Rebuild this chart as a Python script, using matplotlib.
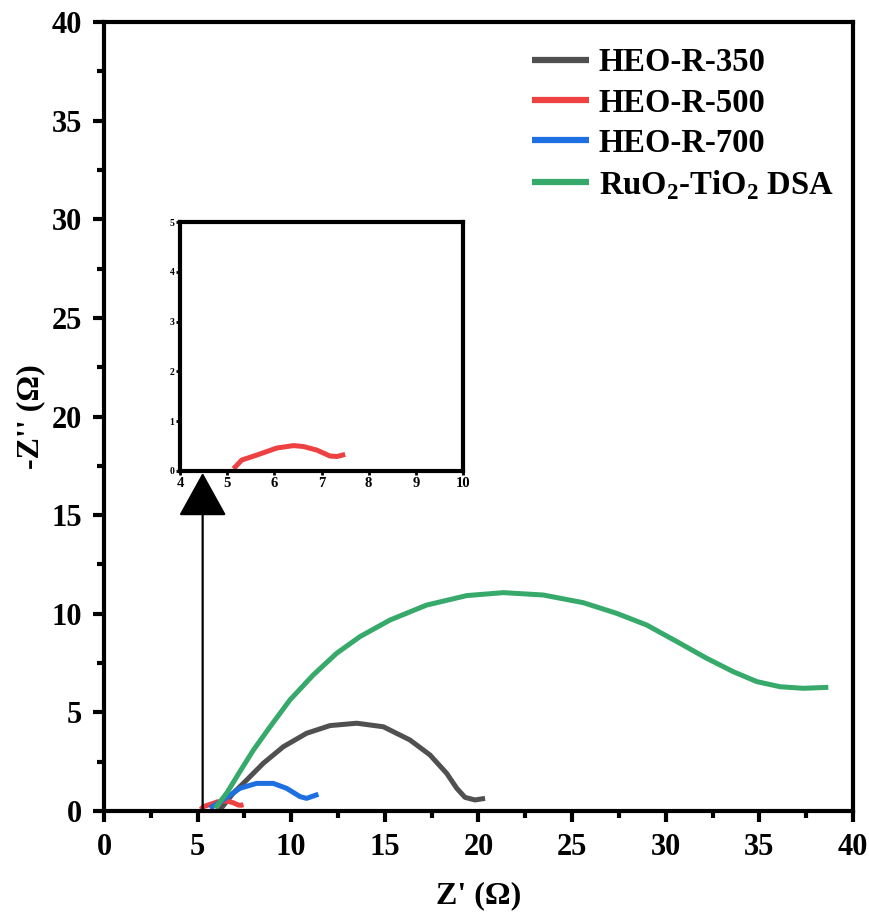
import matplotlib
matplotlib.use("Agg")
import matplotlib.pyplot as plt
from matplotlib.ticker import MultipleLocator

plt.rcParams['font.family'] = ['Liberation Serif', 'DejaVu Serif']
plt.rcParams['font.weight'] = 'bold'
plt.rcParams['mathtext.fontset'] = 'custom'
plt.rcParams['mathtext.rm'] = 'Liberation Serif:bold'
plt.rcParams['mathtext.bf'] = 'Liberation Serif:bold'

# Nyquist data: Z' (ohm) and -Z'' (ohm)
heo350_zr = [6.19, 6.9, 7.62, 8.51, 9.58, 10.82, 12.07, 13.5, 14.92, 16.34, 17.41, 18.3,
             18.84, 19.28, 19.81, 20.35]
heo350_zi = [0.05, 0.9, 1.57, 2.42, 3.26, 3.94, 4.33, 4.45, 4.27, 3.6, 2.84, 1.91,
             1.15, 0.69, 0.56, 0.64]

heo500_zr = [5.17, 5.31, 5.63, 6.05, 6.41, 6.62, 6.9, 7.18, 7.33, 7.45]
heo500_zi = [0.08, 0.22, 0.32, 0.46, 0.51, 0.49, 0.42, 0.30, 0.29, 0.32]

heo700_zr = [5.66, 6.37, 7.26, 8.15, 9.04, 9.75, 10.47, 10.82, 11.45]
heo700_zi = [0.14, 0.56, 1.15, 1.4, 1.4, 1.15, 0.73, 0.64, 0.85]

dsa_zr = [5.93, 6.55, 7.26, 7.98, 8.87, 9.93, 11.18, 12.43, 13.67, 15.27, 17.23, 19.37,
          21.33, 23.46, 25.6, 27.38, 28.98, 30.76, 32.19, 33.61, 34.86, 36.1, 37.35, 38.68]
dsa_zi = [0.14, 0.9, 2.0, 3.09, 4.27, 5.63, 6.9, 8.0, 8.84, 9.68, 10.44, 10.92,
          11.07, 10.95, 10.56, 10.02, 9.43, 8.5, 7.74, 7.06, 6.56, 6.3, 6.22, 6.27]

series = [
    ("HEO-R-350", heo350_zr, heo350_zi, "#505050"),
    ("HEO-R-500", heo500_zr, heo500_zi, "#EE4242"),
    ("HEO-R-700", heo700_zr, heo700_zi, "#1E6FE0"),
    (r"RuO$_2$-TiO$_2$ DSA", dsa_zr, dsa_zi, "#36A96B"),
]

fig = plt.figure(figsize=(8.7, 9.17), dpi=100)
ax = fig.add_axes([0.1195, 0.1156, 0.861, 0.8604])

for label, zr, zi, color in series:
    ax.plot(zr, zi, color=color, lw=3.6, label=label, solid_capstyle='butt',
            solid_joinstyle='round')

ax.set_xlim(0, 40)
ax.set_ylim(0, 40)
ax.xaxis.set_major_locator(MultipleLocator(5))
ax.xaxis.set_minor_locator(MultipleLocator(2.5))
ax.yaxis.set_major_locator(MultipleLocator(5))
ax.yaxis.set_minor_locator(MultipleLocator(2.5))
ax.tick_params(which='major', direction='out', length=8, width=3, labelsize=22, pad=8)
ax.tick_params(which='minor', direction='out', length=5, width=3)
for s in ax.spines.values():
    s.set_linewidth(3)
for lbl in ax.get_xticklabels() + ax.get_yticklabels():
    lbl.set_fontweight('bold')

ax.set_xlabel("Z' (Ω)", fontsize=23, fontweight='bold', labelpad=14)
ax.set_ylabel("-Z'' (Ω)", fontsize=23, fontweight='bold', labelpad=4)

leg = ax.legend(loc='upper right', bbox_to_anchor=(1.013, 1.005), frameon=False,
                prop={'family': 'Liberation Serif', 'weight': 'bold', 'size': 23.5},
                handlelength=1.75, handletextpad=0.28, labelspacing=0.28)
for h in leg.get_lines():
    h.set_linewidth(4.5)

# arrow pointing from the low-frequency region to the zoomed inset
ax.annotate("", xy=(5.27, 17.14), xytext=(5.27, 0.0),
            arrowprops=dict(arrowstyle="-|>,head_length=2.8,head_width=1.55",
                            mutation_scale=10, color='black', lw=1.6,
                            shrinkA=0, shrinkB=0))

# inset: enlarged view of HEO-R-500
axin = fig.add_axes([0.2069, 0.4864, 0.3253, 0.2715])
axin.plot(heo500_zr, heo500_zi, color="#EE4242", lw=3.6, solid_joinstyle='round')
axin.set_xlim(4, 10)
axin.set_ylim(0, 5)
axin.xaxis.set_major_locator(MultipleLocator(1))
axin.yaxis.set_major_locator(MultipleLocator(1))
axin.tick_params(axis='x', direction='out', length=3, width=2, labelsize=10.5, pad=1)
axin.tick_params(axis='y', direction='out', length=3, width=2, labelsize=7, pad=1)
for s in axin.spines.values():
    s.set_linewidth(3)
for lbl in axin.get_xticklabels() + axin.get_yticklabels():
    lbl.set_fontweight('bold')

fig.savefig("out.png", dpi=100)
